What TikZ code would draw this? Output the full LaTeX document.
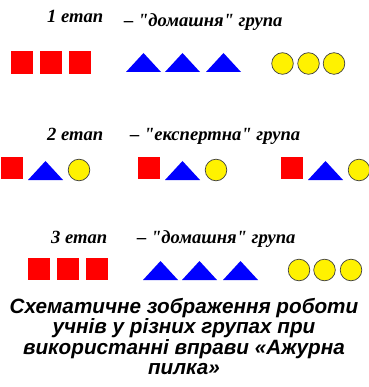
\documentclass[tikz,border=0pt]{standalone}
\usepackage{fontspec}
\setmainfont{Liberation Serif}
\setsansfont{Liberation Sans}
\newfontfamily\stagefont{Liberation Serif}
\tikzset{
  sq/.style={fill=red},
  tri/.style={fill=blue},
  ball/.style={fill=yellow, draw=black!75, line width=0.7pt},
  stage/.style={anchor=base west, inner sep=0pt, font=\fontsize{18.6}{18.6}\stagefont\bfseries\itshape},
  caption/.style={anchor=base, inner sep=0pt, align=center,
    font=\fontsize{20.7}{20.5}\selectfont\sffamily\bfseries\itshape},
}
\newcommand{\sqr}[2]{\fill[sq] (#1,#2) rectangle ++(22,23);}
\newcommand{\trg}[2]{\fill[tri] (#1,#2+19) -- ++(35,0) -- ++(-17.5,-19) -- cycle;}
\newcommand{\bal}[2]{\filldraw[ball] (#1,#2) circle (10.8);}
\begin{document}
\begin{tikzpicture}[x=1pt, y=-1pt]
  \useasboundingbox (0,0) rectangle (368,387);
  % 1 etap
  \node[stage] (st1) at (47,23) {1 етап};
  \node[stage] (gr1) at (124,27) {– "домашня" група};
  \foreach \x in {11,40,69} {\sqr{\x}{51}}
  \foreach \x in {126,165,206} {\trg{\x}{53}}
  \foreach \x in {282.5,308.5,334} {\bal{\x}{63.5}}
  % 2 etap
  \node[stage] (st2) at (47,141) {2 етап};
  \node[stage] (gr2) at (130,141) {– "експертна" група};
  \foreach \x in {1,138,281} {
    \fill[sq] (\x,157) rectangle ++(22,22);
    \trg{\x+27}{161}
    \bal{\x+78}{170}
  }
  % 3 etap
  \node[stage] (st3) at (51,243) {3 етап};
  \node[stage] (gr3) at (137,243) {– "домашня" група};
  \foreach \x in {28,57,86} {\fill[sq] (\x,258) rectangle ++(22,22);}
  \foreach \x in {143,182,223} {\trg{\x}{261}}
  \foreach \x in {299,324.5,351} {\bal{\x}{270}}
  % caption
  \node[caption] (cap) at (184,374.5) {Схематичне зображення роботи\\учнів у різних групах при\\використанні вправи «Ажурна\\пилка»};
\end{tikzpicture}
\end{document}
